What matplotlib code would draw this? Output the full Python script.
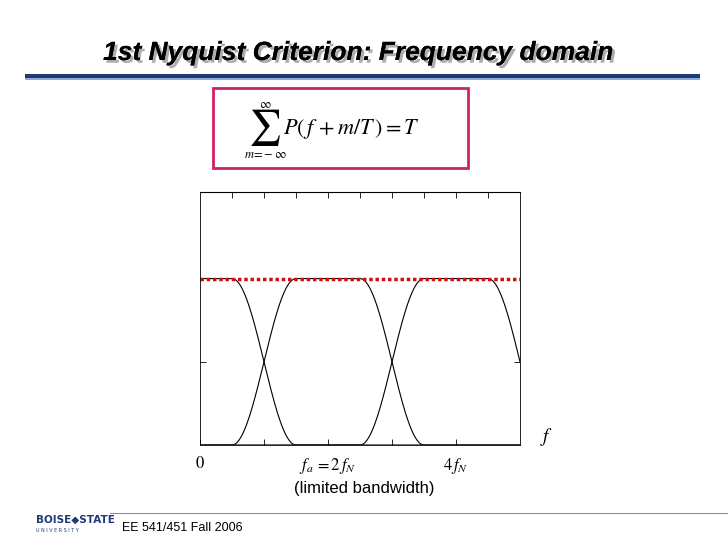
import numpy as np
import matplotlib.pyplot as plt
import matplotlib.patheffects as pe
from matplotlib.patches import Rectangle

# spectrum copies (in units of f_N), raised-cosine roll-off
centers = [0.0, 2.0, 4.0]
flat_half = 0.5      # flat part half-width
edge_half = 1.5      # band edge
level = 1.0          # = T
x_ticklabels = ["0", r"$f_a\,=2\,f_N$", r"$4\,f_N$"]
x_tickpos = [0.0, 2.0, 4.0]

def raised_cos(f, c):
    d = np.abs(f - c)
    y = np.where(d <= flat_half, level, 0.0)
    roll = (d > flat_half) & (d < edge_half)
    y[roll] = level * 0.5 * (1 + np.cos(np.pi * (d[roll] - flat_half) / (edge_half - flat_half)))
    return y

plt.rcParams["mathtext.fontset"] = "stix"
fig = plt.figure(figsize=(7.28, 5.46), dpi=100)
W, H = 728, 546

# title and header bar
fig.text(358 / W, 1 - 53 / H, "1st Nyquist Criterion: Frequency domain", ha="center", va="center",
         fontsize=19, fontweight="bold", fontstyle="italic", family="Liberation Sans",
         path_effects=[pe.withSimplePatchShadow(offset=(2, -2), shadow_rgbFace="#999999", alpha=0.8),
                       pe.Normal()])
fig.add_artist(Rectangle((25 / W, 1 - 78 / H), 675 / W, 4 / H, transform=fig.transFigure,
                         color="#1f3a78", lw=0))
fig.add_artist(Rectangle((25 / W, 1 - 80 / H), 675 / W, 2 / H, transform=fig.transFigure,
                         color="#8fa8d8", lw=0))

# formula box
fig.add_artist(Rectangle((213 / W, 1 - 168 / H), 255 / W, 80 / H, transform=fig.transFigure,
                         fill=False, ec="#d0206a", lw=2))
fig.text(265 / W, 1 - 128 / H, "\u2211", ha="center", va="center", fontsize=26, family="STIXGeneral")
fig.text(265 / W, 1 - 104 / H, r"$\infty$", ha="center", va="center", fontsize=9)
fig.text(265 / W, 1 - 154 / H, r"$m\!=\!-\infty$", ha="center", va="center", fontsize=9)
fig.text(283 / W, 1 - 129 / H, r"$P\left(\,f\, + m/T\,\right) = T$",
         ha="left", va="center", fontsize=16)

ax = fig.add_axes([200 / W, 1 - 445 / H, 320 / W, 253 / H])
f = np.linspace(0, 5, 1001)
for c in centers:
    ax.plot(f, raised_cos(f, c), color="black", lw=0.8)
ax.axhline(level, color="#cc1111", lw=2.5, ls=(0, (1, 0.8)))
ax.set_xlim(0, 5)
ax.set_ylim(0, 1.52)
ax.set_xticks(x_tickpos)
ax.set_xticklabels(x_ticklabels, family="STIXGeneral", fontsize=12)
ax.set_xticks([1, 3], minor=True)
ax.set_yticks([0.5])
ax.set_yticklabels([])
ax.tick_params(direction="in", length=4, width=0.6, which="both", right=True)
ax.tick_params(axis="x", pad=8)
for s in ax.spines.values():
    s.set_linewidth(0.6)
top = ax.secondary_xaxis("top")
top.set_ticks(np.arange(0.5, 5, 0.5))
top.set_xticklabels([])
top.tick_params(direction="in", length=4, width=0.6)

fig.text(540 / W, 1 - 442 / H, r"$f$", fontsize=14)
fig.text(364 / W, 1 - 489 / H, "(limited bandwidth)", ha="center", va="center",
         fontsize=12, family="Liberation Sans")

# footer
fig.add_artist(Rectangle((110 / W, 1 - 514 / H), 618 / W, 1.5 / H, transform=fig.transFigure,
                         color="#888888", lw=0))
fig.text(36 / W, 1 - 520 / H, "BOISE\u25c6STATE", fontsize=7.5, fontweight="bold",
         color="#1f3a78", family="Liberation Sans Narrow", va="center")
fig.text(36 / W, 1 - 531 / H, "U N I V E R S I T Y", fontsize=3.5, color="#1f3a78", va="center")
fig.text(122 / W, 1 - 528 / H, "EE 541/451 Fall 2006", fontsize=9, family="Liberation Sans", va="center")

fig.savefig("out.png", dpi=100)
